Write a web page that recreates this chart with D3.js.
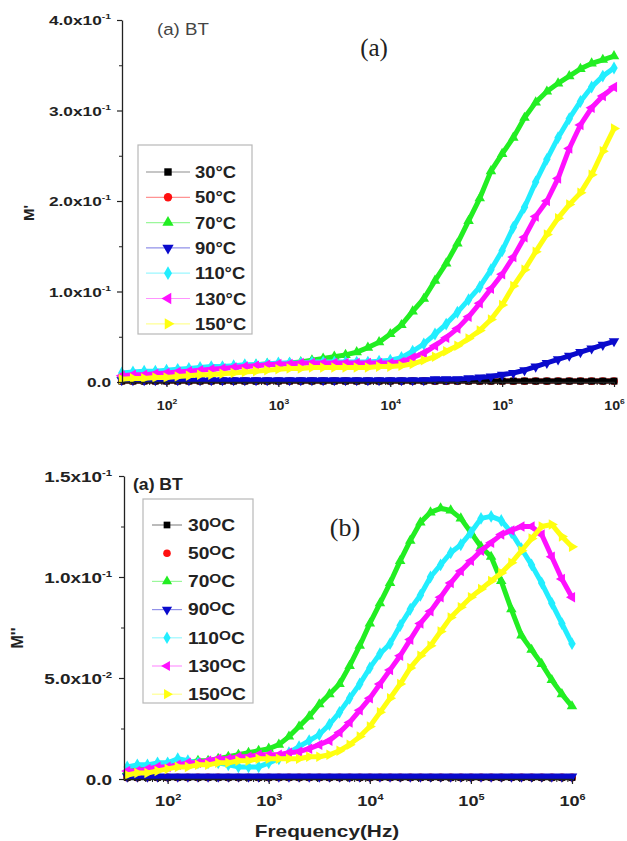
<!DOCTYPE html>
<html><head><meta charset="utf-8">
<script src="https://cdn.jsdelivr.net/npm/d3@7"></script>
<style>body{margin:0;background:#fff}</style>
</head><body>
<svg id="chart" width="627" height="841"></svg>
<script>
// shared frequency grid (log10 Hz)
const logFreq = [1.6,1.7,1.8,1.9,2.0,2.1,2.2,2.3,2.4,2.5,
                 2.6,2.7,2.8,2.9,3.0,3.1,3.2,3.3,3.4,3.5,
                 3.6,3.7,3.8,3.9,4.0,4.1,4.2,4.3,4.4,4.5,
                 4.6,4.7,4.8,4.9,5.0,5.1,5.2,5.3,5.4,5.5,
                 5.6,5.7,5.8,5.9,6.0];
const temps = ["30","50","70","90","110","130","150"];
const colors = ["#000000","#ff1010","#22ee22","#0a0acc","#22eeff","#ff10ff","#ffff10"];
const markerTypes = ["square","circle","up","down","diamond","left","right"];
const drawOrder = [1, 0, 2, 3, 4, 5, 6];

// ---- panel (a): M' ----
const top30  = [0.001,0.001,0.001,0.001,0.001,0.001,0.001,0.001,0.001,0.001,
                0.001,0.001,0.001,0.001,0.001,0.001,0.001,0.001,0.001,0.001,
                0.001,0.001,0.001,0.001,0.001,0.001,0.001,0.001,0.001,0.001,
                0.001,0.001,0.001,0.001,0.001,0.001,0.001,0.001,0.001,0.001,
                0.001,0.001,0.001,0.001,0.001];
const top50  = [0.001,0.001,0.001,0.001,0.001,0.001,0.001,0.001,0.001,0.001,
                0.001,0.001,0.001,0.001,0.001,0.001,0.001,0.001,0.001,0.001,
                0.001,0.001,0.001,0.001,0.001,0.001,0.001,0.001,0.001,0.001,
                0.001,0.001,0.001,0.001,0.001,0.001,0.001,0.001,0.001,0.001,
                0.001,0.001,0.001,0.001,0.001];
const top70  = [0.008,0.009,0.010,0.011,0.012,0.012,0.013,0.014,0.015,0.016,
                0.017,0.018,0.019,0.020,0.020,0.021,0.022,0.024,0.026,0.028,
                0.030,0.033,0.038,0.044,0.053,0.063,0.078,0.092,0.112,0.131,
                0.153,0.178,0.203,0.233,0.252,0.270,0.292,0.309,0.321,0.330,
                0.338,0.346,0.352,0.356,0.360];
const top90  = [0.002,0.002,0.002,0.002,0.002,0.002,0.002,0.002,0.002,0.002,
                0.002,0.002,0.002,0.002,0.002,0.002,0.002,0.002,0.002,0.002,
                0.002,0.002,0.002,0.002,0.002,0.002,0.002,0.002,0.003,0.003,
                0.003,0.004,0.005,0.006,0.008,0.010,0.013,0.017,0.021,0.025,
                0.029,0.033,0.037,0.041,0.045];
const top110 = [0.010,0.011,0.012,0.012,0.013,0.014,0.015,0.016,0.017,0.017,
                0.018,0.019,0.019,0.020,0.021,0.021,0.021,0.022,0.022,0.022,
                0.022,0.022,0.022,0.023,0.024,0.027,0.034,0.042,0.053,0.064,
                0.077,0.091,0.105,0.124,0.145,0.171,0.193,0.221,0.246,0.270,
                0.291,0.310,0.326,0.338,0.347];
const top130 = [0.007,0.008,0.008,0.009,0.010,0.011,0.012,0.013,0.014,0.015,
                0.016,0.017,0.018,0.019,0.020,0.020,0.021,0.021,0.021,0.021,
                0.021,0.021,0.021,0.021,0.021,0.022,0.027,0.032,0.040,0.049,
                0.059,0.072,0.087,0.103,0.119,0.138,0.160,0.183,0.200,0.225,
                0.258,0.284,0.303,0.316,0.326];
const top150 = [0.003,0.004,0.004,0.005,0.005,0.006,0.007,0.008,0.008,0.009,
                0.010,0.011,0.012,0.013,0.014,0.015,0.015,0.016,0.016,0.016,
                0.016,0.016,0.016,0.017,0.017,0.018,0.020,0.024,0.028,0.034,
                0.040,0.048,0.057,0.069,0.085,0.106,0.124,0.144,0.163,0.181,
                0.196,0.209,0.229,0.255,0.280];

// ---- panel (b): M'' ----
const bot30  = [0.0008,0.0008,0.0008,0.0008,0.0008,0.0008,0.0008,0.0008,0.0008,0.0008,
                0.0008,0.0008,0.0008,0.0008,0.0008,0.0008,0.0008,0.0008,0.0008,0.0008,
                0.0008,0.0008,0.0008,0.0008,0.0008,0.0008,0.0008,0.0008,0.0008,0.0008,
                0.0008,0.0008,0.0008,0.0008,0.0008,0.0008,0.0008,0.0008,0.0008,0.0008,
                0.0008,0.0008,0.0008,0.0008,0.0008];
const bot50  = [0.0008,0.0008,0.0008,0.0008,0.0008,0.0008,0.0008,0.0008,0.0008,0.0008,
                0.0008,0.0008,0.0008,0.0008,0.0008,0.0008,0.0008,0.0008,0.0008,0.0008,
                0.0008,0.0008,0.0008,0.0008,0.0008,0.0008,0.0008,0.0008,0.0008,0.0008,
                0.0008,0.0008,0.0008,0.0008,0.0008,0.0008,0.0008,0.0008,0.0008,0.0008,
                0.0008,0.0008,0.0008,0.0008,0.0008];
const bot70  = [0.004,0.005,0.006,0.006,0.007,0.008,0.008,0.009,0.009,0.010,
                0.011,0.012,0.013,0.014,0.015,0.017,0.021,0.026,0.031,0.037,
                0.042,0.047,0.056,0.066,0.077,0.087,0.097,0.108,0.118,0.127,
                0.132,0.134,0.133,0.129,0.122,0.115,0.110,0.098,0.084,0.071,
                0.064,0.057,0.049,0.042,0.036];
const bot90  = [0.0012,0.0012,0.0012,0.0012,0.0012,0.0012,0.0012,0.0012,0.0012,0.0012,
                0.0012,0.0012,0.0012,0.0012,0.0012,0.0012,0.0012,0.0012,0.0012,0.0012,
                0.0012,0.0012,0.0012,0.0012,0.0012,0.0012,0.0012,0.0012,0.0012,0.0012,
                0.0012,0.0012,0.0012,0.0012,0.0012,0.0012,0.0012,0.0012,0.0012,0.0012,
                0.0012,0.0012,0.0012,0.0012,0.0012];
const bot110 = [0.006,0.007,0.007,0.008,0.008,0.010,0.009,0.008,0.008,0.008,
                0.007,0.006,0.006,0.006,0.008,0.010,0.013,0.016,0.019,0.022,
                0.027,0.033,0.040,0.047,0.055,0.062,0.067,0.076,0.084,0.091,
                0.100,0.106,0.112,0.116,0.122,0.129,0.130,0.128,0.122,0.114,
                0.106,0.097,0.087,0.077,0.067];
const bot130 = [0.004,0.004,0.005,0.006,0.006,0.007,0.008,0.008,0.009,0.010,
                0.010,0.011,0.011,0.012,0.012,0.012,0.013,0.0135,0.015,0.017,
                0.019,0.023,0.028,0.034,0.040,0.047,0.054,0.061,0.069,0.077,
                0.083,0.090,0.097,0.103,0.108,0.113,0.117,0.121,0.123,0.125,
                0.125,0.121,0.110,0.099,0.090];
const bot150 = [0.002,0.003,0.003,0.004,0.005,0.006,0.006,0.007,0.007,0.008,
                0.008,0.009,0.009,0.010,0.010,0.010,0.010,0.010,0.011,0.011,
                0.012,0.014,0.017,0.021,0.026,0.033,0.040,0.047,0.055,0.061,
                0.066,0.073,0.080,0.085,0.090,0.094,0.098,0.102,0.107,0.113,
                0.119,0.125,0.126,0.120,0.115];

const topTicks = [0, 0.1, 0.2, 0.3, 0.4];
const topMinor = [0.05, 0.15, 0.25, 0.35];
const botTicks = [0, 0.05, 0.10, 0.15];
const botMinor = [0.025, 0.075, 0.125];
const xMajor = [1e2, 1e3, 1e4, 1e5, 1e6];

const FONT = "Arial, 'Liberation Sans', sans-serif";
const SERIF = "'Times New Roman', 'Liberation Serif', serif";
const svg = d3.select("#chart");

function symbolPath(type, size) {
  const t = {square: d3.symbolSquare, circle: d3.symbolCircle, diamond: d3.symbolDiamond}[type] || d3.symbolTriangle;
  return d3.symbol().type(t).size(size)();
}
function symbolRot(type) {
  return {down: 180, left: -90, right: 90}[type] || 0;
}
function sciParts(v) {
  if (v === 0) return ["0.0", null];
  const e = Math.floor(Math.log10(v) + 1e-9);
  const m = v / Math.pow(10, e);
  return [m.toFixed(1) + "x10", String(e)];
}

function drawPanel(cfg) {
  const x = d3.scaleLog().domain(cfg.xDomain).range([cfg.left, cfg.right]);
  const y = d3.scaleLinear().domain(cfg.yDomain).range([cfg.bottom, cfg.top]);
  const g = svg.append("g");

  // series
  drawOrder.forEach(i => {
    const vals = cfg.series[i];
    const pts = logFreq.map((lf, k) => [Math.pow(10, lf), vals[k]]);
    g.append("path").datum(pts)
      .attr("d", d3.line().x(d => x(d[0])).y(d => y(d[1])))
      .attr("fill", "none").attr("stroke", colors[i])
      .attr("stroke-width", 5).attr("stroke-linejoin", "round");
    g.selectAll(null).data(pts).enter().append("path")
      .attr("d", symbolPath(markerTypes[i], 48))
      .attr("transform", d => `translate(${x(d[0])},${y(d[1])}) rotate(${symbolRot(markerTypes[i])})`)
      .attr("fill", colors[i]);
  });

  // y axis
  const ya = g.append("g").attr("transform", `translate(${cfg.left},0)`)
    .call(d3.axisLeft(y).tickValues(cfg.yTicks).tickSize(5).tickSizeOuter(0).tickFormat(() => ""));
  ya.select(".domain").attr("stroke", "#222").attr("stroke-width", 1.3);
  ya.selectAll(".tick line").attr("stroke", "#222").attr("stroke-width", 1.2);
  ya.selectAll(".tick text").each(function(d) {
    const t = d3.select(this).attr("x", 0).attr("dy", "0.35em")
      .attr("transform", `translate(${cfg.yLabelX},0) scale(${cfg.yScaleX},1)`)
      .attr("font-family", FONT).attr("font-weight", "bold").attr("font-size", cfg.yFont).attr("fill", "#222");
    const [base, ex] = sciParts(d);
    t.append("tspan").text(base);
    if (ex) t.append("tspan").attr("dy", -6).attr("font-size", cfg.yFont * 0.6).text("-" + ex.replace("-", ""));
  });
  const ym = g.append("g").attr("transform", `translate(${cfg.left},0)`)
    .call(d3.axisLeft(y).tickValues(cfg.yMinor).tickSize(3).tickFormat(() => ""));
  ym.select(".domain").remove();
  ym.selectAll(".tick line").attr("stroke", "#222");

  // x axis
  const xa = g.append("g").attr("transform", `translate(0,${cfg.bottom})`)
    .call(d3.axisBottom(x).tickValues(xMajor).tickSize(5).tickSizeOuter(0).tickFormat(() => ""));
  xa.select(".domain").attr("stroke", "#222").attr("stroke-width", 1.3);
  xa.selectAll(".tick line").attr("stroke", "#222").attr("stroke-width", 1.2);
  xa.selectAll(".tick text").each(function(d) {
    const t = d3.select(this).attr("y", 0).attr("dy", null)
      .attr("transform", `translate(0,${cfg.xLabelY}) scale(${cfg.xScaleX},1)`)
      .attr("font-family", FONT).attr("font-weight", "bold").attr("font-size", cfg.xFont).attr("fill", "#222");
    t.append("tspan").text("10");
    t.append("tspan").attr("dy", -6).attr("font-size", cfg.xFont * 0.6).text(String(Math.round(Math.log10(d))));
  });
  const minors = [];
  for (let e = 1; e < 6; e++) for (let m = 2; m <= 9; m++) {
    const v = m * Math.pow(10, e);
    if (v >= cfg.xDomain[0] && v <= cfg.xDomain[1]) minors.push(v);
  }
  const xm = g.append("g").attr("transform", `translate(0,${cfg.bottom})`)
    .call(d3.axisBottom(x).tickValues(minors).tickSize(3).tickFormat(() => ""));
  xm.select(".domain").remove();
  xm.selectAll(".tick line").attr("stroke", "#222");

  // legend
  const L = cfg.legend;
  g.append("rect").attr("x", L.x).attr("y", L.y).attr("width", L.w).attr("height", L.h)
    .attr("fill", "#fff").attr("stroke", "#b8b8b8").attr("stroke-width", 1.2);
  temps.forEach((tl, i) => {
    const yy = L.firstY + i * L.step;
    if (!(L.noLine || []).includes(i)) {
      g.append("line").attr("x1", L.lineX1).attr("x2", L.lineX2).attr("y1", yy).attr("y2", yy)
        .attr("stroke", colors[i]).attr("stroke-opacity", 0.45).attr("stroke-width", 1.2);
    }
    g.append("path").attr("d", symbolPath(markerTypes[i], L.msize))
      .attr("transform", `translate(${L.markX},${yy}) rotate(${symbolRot(markerTypes[i])})`)
      .attr("fill", colors[i]);
    const t = g.append("text").attr("x", 0).attr("y", 0).attr("dy", "0.36em")
      .attr("transform", `translate(${L.textX},${yy}) scale(${L.scaleX},1)`)
      .attr("font-family", FONT).attr("font-weight", "bold").attr("font-size", L.font).attr("fill", "#222");
    if (L.supO) {
      t.append("tspan").text(tl);
      t.append("tspan").attr("dy", -4).attr("font-size", L.font * 0.8).text("O");
      t.append("tspan").attr("dy", 4).text("C");
    } else {
      t.text(tl + "\u00B0C");
    }
  });
}

drawPanel({
  xDomain: [40, 1e6], yDomain: [0, 0.4],
  left: 122, right: 614, top: 20, bottom: 382,
  yTicks: topTicks, yMinor: topMinor, yLabelX: -11, yFont: 13.5, yScaleX: 1.28,
  xLabelY: 28, xFont: 13.5, xScaleX: 1.05,
  series: [top30, top50, top70, top90, top110, top130, top150],
  legend: {x: 138, y: 145, w: 114, h: 189, firstY: 172, step: 25.3, lineX1: 146, lineX2: 190,
           markX: 168, textX: 195, font: 17, scaleX: 1.08, msize: 55, supO: false, noLine: []}
});
drawPanel({
  xDomain: [37, 1e6], yDomain: [0, 0.15],
  left: 124, right: 572, top: 476, bottom: 779,
  yTicks: botTicks, yMinor: botMinor, yLabelX: -12, yFont: 15.5, yScaleX: 1.22,
  xLabelY: 27, xFont: 14.5, xScaleX: 1.25,
  series: [bot30, bot50, bot70, bot90, bot110, bot130, bot150],
  legend: {x: 143, y: 499, w: 110, h: 204, firstY: 525, step: 28.2, lineX1: 152, lineX2: 182,
           markX: 167, textX: 188, font: 16, scaleX: 1.2, msize: 45, supO: true, noLine: [1]}
});

// titles & annotations
svg.append("text").attr("transform", "translate(157,35) scale(1.1,1)").attr("font-family", FONT)
  .attr("font-size", 17).attr("fill", "#444").text("(a) BT");
svg.append("text").attr("x", 374).attr("y", 56).attr("text-anchor", "middle").attr("font-family", SERIF)
  .attr("font-size", 25).attr("fill", "#222").text("(a)");
svg.append("text").attr("transform", "translate(133,490) scale(1.1,1)").attr("font-family", FONT)
  .attr("font-size", 16).attr("font-weight", "bold").attr("fill", "#222").text("(a) BT");
svg.append("text").attr("x", 345).attr("y", 536).attr("text-anchor", "middle").attr("font-family", SERIF)
  .attr("font-size", 26).attr("fill", "#222").text("(b)");
svg.append("text").attr("transform", "translate(34,213) rotate(-90)").attr("text-anchor", "middle")
  .attr("font-family", FONT).attr("font-weight", "bold").attr("font-size", 15).attr("fill", "#222").text("M'");
svg.append("text").attr("transform", "translate(23,638) rotate(-90)").attr("text-anchor", "middle")
  .attr("font-family", FONT).attr("font-weight", "bold").attr("font-size", 16).attr("fill", "#222").text("M''");
svg.append("text").attr("transform", "translate(327,837) scale(1.3,1)").attr("text-anchor", "middle")
  .attr("font-family", FONT).attr("font-weight", "bold").attr("font-size", 16).attr("fill", "#222").text("Frequency(Hz)");
</script>
</body></html>
